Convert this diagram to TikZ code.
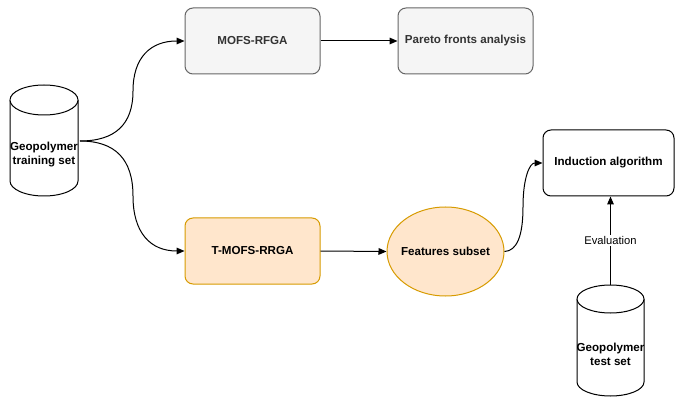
\documentclass[tikz,border=0pt]{standalone}
\usepackage{fontspec}
\setmainfont{Liberation Sans}
\usetikzlibrary{shapes.geometric,arrows.meta}
\definecolor{grayfill}{HTML}{F5F5F5}
\definecolor{graystroke}{HTML}{666666}
\definecolor{graytext}{HTML}{333333}
\definecolor{orfill}{HTML}{FFE6CC}
\definecolor{orstroke}{HTML}{D79B00}
\begin{document}
\begin{tikzpicture}[x=0.75pt,y=-0.75pt,
  lbl/.style={font=\bfseries\fontsize{8.7}{10.5}\selectfont, align=center},
  graybox/.style={draw=graystroke, fill=grayfill, rounded corners=6pt, minimum width=101.25pt, minimum height=49.5pt, text=graytext, lbl, line width=0.75pt},
  plainbox/.style={draw=black, fill=white, rounded corners=6pt, minimum width=98.25pt, minimum height=49.5pt, lbl, line width=0.75pt},
  orbox/.style={draw=orstroke, fill=orfill, rounded corners=6pt, minimum width=101.25pt, minimum height=49.5pt, lbl, line width=0.75pt},
  orell/.style={draw=orstroke, fill=orfill, ellipse, minimum width=87.75pt, minimum height=66.75pt, inner sep=0pt, lbl, line width=0.75pt},
  conn/.style={draw=black, line width=0.75pt, -{Triangle[length=6pt,width=5pt]}},
  cyl/.style={draw=black, fill=white, line width=0.75pt}
]
\useasboundingbox (0,0) rectangle (675,399);

% cylinders
\filldraw[cyl] (10,100) -- (10,181) arc[start angle=180,end angle=0,x radius=34,y radius=15] -- (78,100) arc[start angle=0,end angle=-180,x radius=34,y radius=15];
\draw[cyl] (10,100) arc[start angle=180,end angle=0,x radius=34,y radius=15];
\node[lbl, inner sep=0pt] (train) at (44,155) {Geopolymer\\training set};
\coordinate (trainout) at (80,141);

\filldraw[cyl] (577,299) -- (577,382) arc[start angle=180,end angle=0,x radius=33.5,y radius=14] -- (644,299) arc[start angle=0,end angle=-180,x radius=33.5,y radius=14];
\draw[cyl] (577,299) arc[start angle=180,end angle=0,x radius=33.5,y radius=14];
\node[lbl, inner sep=0pt] (test) at (610.5,354) {Geopolymer\\test set};
\coordinate (testtop) at (610.5,285);

% boxes
\node[graybox] (mofs) at (252.5,41) {MOFS-RFGA};
\node[graybox] (pareto) at (465.5,41) {Pareto fronts analysis};
\node[orbox] (tmofs) at (252.5,251) {T-MOFS-RRGA};
\node[orell] (feat) at (445.5,251.5) {\makebox[0pt]{Features subset}};
\node[plainbox] (ind) at (608.5,163) {Induction algorithm};

% connectors
\draw[conn] (trainout) .. controls (115.3,141) and (133,124.3) .. (133,91) .. controls (133,57.7) and (150.3,41) .. (mofs.west);
\draw[conn] (trainout) .. controls (115.3,141) and (133,159.3) .. (133,196) .. controls (133,232.7) and (150.3,251) .. (tmofs.west);
\draw[conn] (mofs.east) -- (pareto.west);
\draw[conn] (tmofs.east) -- (feat.west);
\draw[conn] (feat.east) .. controls (516.7,251) and (523,236.3) .. (523,207) .. controls (523,177.7) and (529.7,163) .. (ind.west);
\draw[conn] (testtop) -- node[fill=white, inner sep=1pt, font=\fontsize{8.4}{10}\selectfont] (evl) {Evaluation} (testtop |- ind.south);
\end{tikzpicture}
\end{document}
